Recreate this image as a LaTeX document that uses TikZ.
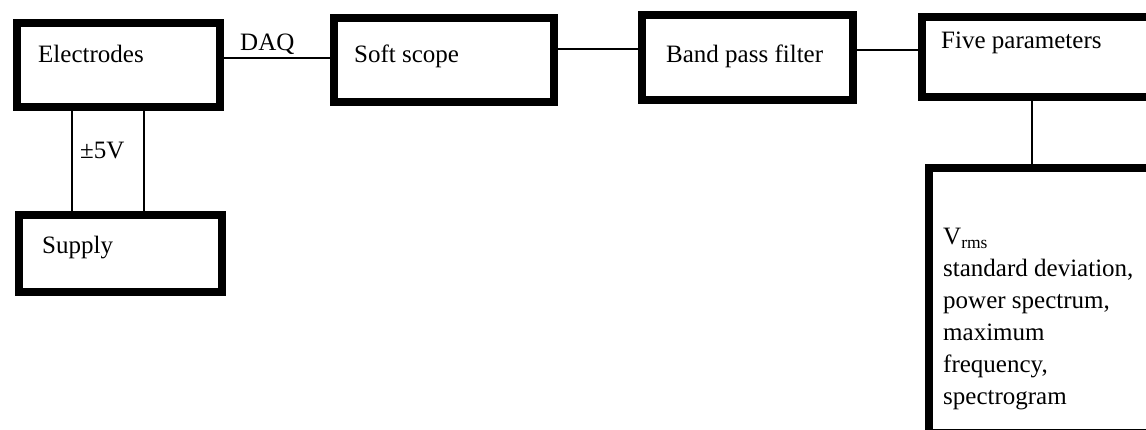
\documentclass[tikz,border=0pt]{standalone}
\usepackage{fontspec}
\setmainfont{Liberation Serif}
\begin{document}
\begin{tikzpicture}[x=1pt,y=-1pt,
  blk/.style={draw=black,line width=8pt,rectangle,inner sep=0pt,anchor=north west},
  wire/.style={draw=black,line width=1.2pt},
  txt/.style={anchor=base west,inner sep=0pt,font=\fontsize{25}{32}\selectfont}]
\useasboundingbox[fill=white] (0,0) rectangle (1146,429);
% boxes (border centre lines)
\node[blk,minimum width=203pt,minimum height=84pt] (el) at (13,19) {};
\node[blk,minimum width=220pt,minimum height=84pt] (ss) at (330,14) {};
\node[blk,minimum width=211pt,minimum height=85pt] (bp) at (638,11) {};
\node[blk,minimum width=229pt,minimum height=80pt] (fp) at (918,13) {};
\node[blk,minimum width=203pt,minimum height=77pt] (su) at (15,211) {};
\node[blk,minimum width=224pt,minimum height=265pt] (vr) at (925,164) {};
% connectors
\coordinate (d1) at (0,58);
\coordinate (d2) at (0,49);
\coordinate (d3) at (0,50);
\coordinate (v1) at (72,0);
\coordinate (v2) at (144,0);
\coordinate (v3) at (1032,0);
\draw[wire] (el.east |- d1) -- (ss.west |- d1);
\draw[wire] (ss.east |- d2) -- (bp.west |- d2);
\draw[wire] (bp.east |- d3) -- (fp.west |- d3);
\draw[wire] (fp.south -| v3) -- (vr.north -| v3);
\draw[wire] (el.south -| v1) -- (su.north -| v1);
\draw[wire] (el.south -| v2) -- (su.north -| v2);
% texts
\node[txt] (tel) at (38,62) {Electrodes};
\node[txt] (tdaq) at (240,50) {DAQ};
\node[txt] (tss) at (354,62) {Soft scope};
\node[txt] (tbp) at (666,62) {Band pass filter};
\node[txt] (tfp) at (941,48) {Five parameters};
\node[txt] (tv) at (80,158) {±5V};
\node[txt] (tsu) at (42,253) {Supply};
\node[txt,align=left,anchor=north west] (tvr) at (943,228) {V\textsubscript{rms}\\standard deviation,\\power spectrum,\\maximum\\frequency,\\spectrogram};
\end{tikzpicture}
\end{document}
